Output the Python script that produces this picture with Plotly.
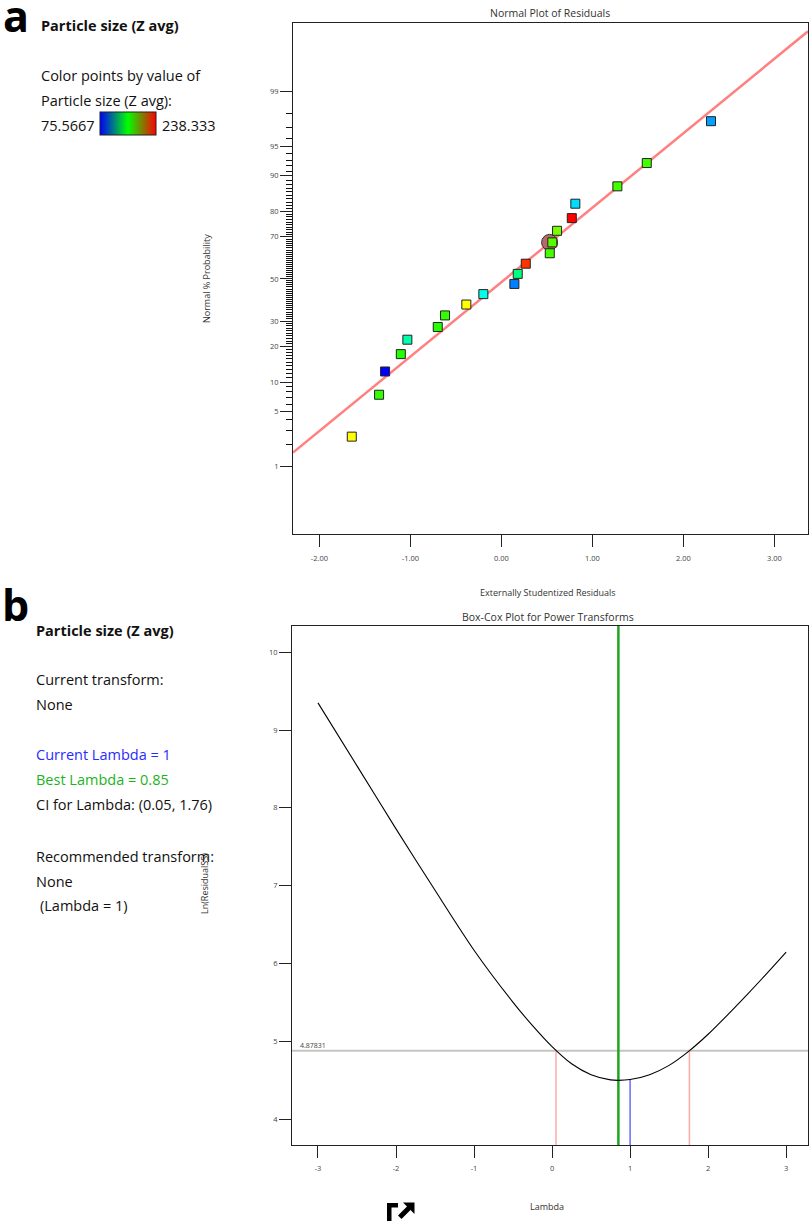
import plotly.graph_objects as go
from statistics import NormalDist

W, H = 809, 1221
FONT = "Open Sans"
nd = NormalDist()

# ---------------- Panel a : Normal plot of residuals ----------------
residuals = [-1.644, -1.344, -1.278, -1.105, -1.033, -0.699, -0.619, -0.385, -0.198, 0.143,
             0.180, 0.268, 0.532, 0.560, 0.612, 0.774, 0.813, 1.275, 1.598, 2.304]
normal_prob_pct = [2.5, 7.5, 12.5, 17.5, 22.5, 27.5, 32.5, 37.5, 42.5, 47.5,
                   52.5, 57.5, 62.5, 67.5, 72.5, 77.5, 82.5, 87.5, 92.5, 97.5]
point_colors = ["#ffff00", "#33ff00", "#0000ff", "#22ff00", "#00ffaa", "#22ff00", "#33ff00",
                "#ffff00", "#00ffe8", "#0080ff", "#00ff80", "#ff3300", "#44ff00", "#55ff00",
                "#77ff00", "#ff0000", "#00ddff", "#44ff00", "#44ff00", "#00a0ff"]
selected_residual = 0.53
selected_prob_pct = 67.5
ref_slope = 0.925
ref_intercept = -0.04
prob_major = [1, 5, 10, 20, 30, 50, 70, 80, 90, 95, 99]
prob_minor = [p for p in range(1, 100) if p not in prob_major]
x_ticks_a = [-2, -1, 0, 1, 2, 3]
x_range_a = [-2.29, 3.37]
z_range_a = [-3.17, 3.18]
color_min, color_max = 75.5667, 238.333

# ---------------- Panel b : Box-Cox plot ----------------
lambdas = [-3, -2.5, -2, -1.5, -1, -0.5, -0.25, 0, 0.25, 0.5, 0.75, 0.85, 1,
           1.25, 1.5, 1.75, 2, 2.25, 2.5, 2.75, 3]
ln_resid_ss = [9.35, 8.54, 7.73, 6.94, 6.17, 5.50, 5.20, 4.93, 4.71, 4.57, 4.503, 4.497, 4.507,
               4.57, 4.69, 4.87, 5.09, 5.34, 5.60, 5.87, 6.147]
best_lambda = 0.85
current_lambda = 1.0
ci_low, ci_high = 0.05, 1.76
ci_threshold = 4.87831
x_ticks_b = [-3, -2, -1, 0, 1, 2, 3]
y_ticks_b = [4, 5, 6, 7, 8, 9, 10]
x_range_b = [-3.333, 3.28]
y_range_b = [3.666, 10.338]


def px(x):
    return x / W


def py(y):
    return 1 - y / H


z = lambda p: nd.inv_cdf(p / 100.0)

fig = go.Figure()

# reference line (panel a)
fig.add_trace(go.Scatter(
    x=x_range_a, y=[ref_intercept + ref_slope * v for v in x_range_a],
    mode="lines", line=dict(color="#ff8080", width=2.5),
    xaxis="x", yaxis="y", hoverinfo="skip", showlegend=False))

# selected point circle
fig.add_trace(go.Scatter(
    x=[selected_residual], y=[z(selected_prob_pct)], mode="markers",
    marker=dict(symbol="circle", size=16, color="#b86868", line=dict(color="#333333", width=1)),
    xaxis="x", yaxis="y", showlegend=False))

# residual points
fig.add_trace(go.Scatter(
    x=residuals, y=[z(p) for p in normal_prob_pct], mode="markers",
    marker=dict(symbol="square", size=9, color=point_colors,
                line=dict(color="#222222", width=1)),
    xaxis="x", yaxis="y", showlegend=False))

# dummy trace for colour legend bar
fig.add_trace(go.Scatter(
    x=[None], y=[None], mode="markers", xaxis="x", yaxis="y", showlegend=False,
    marker=dict(color=[color_min, color_max], cmin=color_min, cmax=color_max,
                colorscale=[[0, "#0000ff"], [0.5, "#00ff00"], [1, "#ff0000"]],
                showscale=True,
                colorbar=dict(orientation="h", x=px(100), xanchor="left",
                              y=py(112), yanchor="top", len=56, lenmode="pixels",
                              thickness=23, thicknessmode="pixels",
                              showticklabels=False, ticks="", outlinewidth=1,
                              outlinecolor="#222222", xpad=0, ypad=0, borderwidth=0))))

# ---------- panel b traces ----------
fig.add_trace(go.Scatter(
    x=x_range_b, y=[ci_threshold, ci_threshold], mode="lines",
    line=dict(color="#c4c4c4", width=2), xaxis="x2", yaxis="y2", showlegend=False))
for lam in (ci_low, ci_high):
    fig.add_trace(go.Scatter(
        x=[lam, lam], y=[y_range_b[0], ci_threshold], mode="lines",
        line=dict(color="#ffaaaa", width=1.5), xaxis="x2", yaxis="y2", showlegend=False))
cur_idx = lambdas.index(current_lambda)
fig.add_trace(go.Scatter(
    x=[current_lambda, current_lambda], y=[y_range_b[0], ln_resid_ss[cur_idx]], mode="lines",
    line=dict(color="#6a6aff", width=1.5), xaxis="x2", yaxis="y2", showlegend=False))
fig.add_trace(go.Scatter(
    x=[best_lambda, best_lambda], y=y_range_b, mode="lines",
    line=dict(color="#1fa51f", width=2.5), xaxis="x2", yaxis="y2", showlegend=False))
fig.add_trace(go.Scatter(
    x=lambdas, y=ln_resid_ss, mode="lines",
    line=dict(color="#000000", width=1.1, shape="spline", smoothing=0.8),
    xaxis="x2", yaxis="y2", showlegend=False))

tickfont = dict(family=FONT, size=7.5, color="#444444")
axis_common = dict(showline=True, mirror=True, linecolor="#222222", linewidth=1,
                   showgrid=False, zeroline=False, ticks="outside", ticklen=12,
                   tickcolor="#222222", tickwidth=1, tickfont=tickfont)

fig.update_layout(
    width=W, height=H, margin=dict(l=0, r=0, t=0, b=0),
    paper_bgcolor="white", plot_bgcolor="white", showlegend=False,
    font=dict(family=FONT, color="#000000"),
    xaxis=dict(domain=[px(293), px(808)], anchor="y", range=x_range_a,
               tickvals=x_ticks_a, ticktext=["%.2f" % v for v in x_ticks_a],
               ticklabelstandoff=5, **axis_common),
    yaxis=dict(domain=[py(534), py(23)], anchor="x", range=z_range_a,
               tickvals=[z(p) for p in prob_major], ticktext=[str(p) for p in prob_major],
               minor=dict(tickvals=[z(p) for p in prob_minor], ticks="outside", ticklen=6,
                          tickcolor="#111111", tickwidth=1),
               **axis_common),
    xaxis2=dict(domain=[px(292), px(808)], anchor="y2", range=x_range_b,
                tickvals=x_ticks_b, ticktext=[str(v) for v in x_ticks_b],
                ticklabelstandoff=4, **axis_common),
    yaxis2=dict(domain=[py(1145), py(626)], anchor="x2", range=y_range_b,
                tickvals=y_ticks_b, ticktext=[str(v) for v in y_ticks_b], **axis_common),
)

ann = []


def text(x, y, s, size=14, color="#111111", bold=False, anchor="left", angle=0):
    ann.append(dict(x=px(x), y=py(y), xref="paper", yref="paper", text=("<b>%s</b>" % s) if bold else s,
                    showarrow=False, xanchor=anchor, yanchor="middle", textangle=angle,
                    font=dict(family=FONT, size=size, color=color)))


# panel a side text
text(1, 16, "a", size=43, bold=True, color="#000000")
text(39, 25, "Particle size (Z avg)", size=14.5, bold=True)
text(39, 76, "Color points by value of", size=14.5)
text(39, 101, "Particle size (Z avg):", size=14.5)
text(39, 125, "%.4f" % color_min, size=14.5)
text(160, 125, "%.3f" % color_max, size=14.5)
# panel a titles
text(550, 13, "Normal Plot of Residuals", size=10.5, color="#333333", anchor="center")
text(548, 592, "Externally Studentized Residuals", size=9, color="#333333", anchor="center")
text(207, 279, "Normal % Probability", size=9, color="#333333", anchor="center", angle=-90)

# panel b side text
text(0, 604, "b", size=43, bold=True, color="#000000")
text(34, 630, "Particle size (Z avg)", size=14.5, bold=True)
text(34, 679, "Current transform:", size=14.5)
text(34, 704, "None", size=14.5)
text(34, 755, "Current Lambda = %g" % current_lambda, size=14.5, color="#2a2aff")
text(34, 779, "Best Lambda = %g" % best_lambda, size=14.5, color="#1db31d")
text(34, 804, "CI for Lambda: (%g, %g)" % (ci_low, ci_high), size=14.5)
text(34, 856, "Recommended transform:", size=14.5)
text(34, 881, "None", size=14.5)
text(38, 905, "(Lambda = 1)", size=14.5)
# panel b titles
text(548, 617, "Box-Cox Plot for Power Transforms", size=10.5, color="#333333", anchor="center")
text(547, 1206, "Lambda", size=9, color="#333333", anchor="center")
text(204, 883, "Ln(ResidualSS)", size=9, color="#333333", anchor="center", angle=-90)
text(298, 1045, "%.5f" % ci_threshold, size=7, color="#444444")

fig.update_layout(annotations=ann)


# small "expand" icon at bottom
def path(pts):
    return "M " + " L ".join("%f,%f" % (px(a), py(b)) for a, b in pts) + " Z"


icon_shapes = [
    dict(type="path", xref="paper", yref="paper", path=path([(387, 1203), (398, 1203), (398, 1207.5), (391.5, 1207.5), (391.5, 1221), (387, 1221)]),
         fillcolor="#000000", line=dict(width=0)),
    dict(type="path", xref="paper", yref="paper", path=path([(414.5, 1202.5), (414.5, 1214), (403, 1202.5)]),
         fillcolor="#000000", line=dict(width=0)),
    dict(type="path", xref="paper", yref="paper", path=path([(408, 1205.5), (411.5, 1209), (401.5, 1219), (398, 1215.5)]),
         fillcolor="#000000", line=dict(width=0)),
]
fig.update_layout(shapes=icon_shapes)

fig.write_html("out.html")
